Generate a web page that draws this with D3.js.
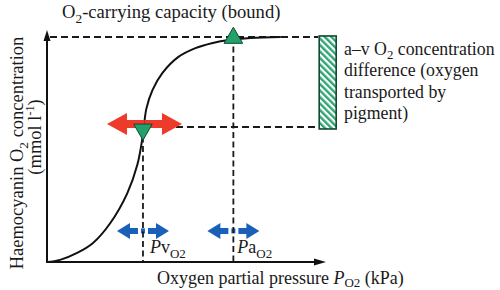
<!DOCTYPE html>
<html><head><meta charset="utf-8">
<script src="https://cdn.jsdelivr.net/npm/d3@7"></script>
<style>
body{margin:0;background:#fff}
svg{display:block}
text{font-family:"Liberation Serif","Times New Roman","DejaVu Serif",serif;fill:#1a1a1a}
</style>
</head><body>
<svg id="c" width="500" height="290"></svg>
<script>
// ---- data (arbitrary units: PO2 0-100, O2 content 0-100) ----
const curvePO2 = [0, 4.7, 10.8, 16.5, 22.7, 28.8, 32.4, 34.4, 35.6, 37.8, 41.4, 47.1, 53.2, 59.4, 65.1, 73.0, 83.8];
const curveO2  = [0, 0.9, 3.9, 8.2, 16.8, 29.7, 42.0, 55.0, 66.0, 74.1, 81.5, 88.4, 92.2, 94.4, 95.7, 96.6, 97.0];
const pvO2 = 34.4;          // venous PO2
const paO2 = 66.8;          // arterial PO2
const capacity = 97.0;      // O2-carrying capacity (bound)
const venousContent = 58.2; // venous O2 content
const capacityLineEnd = 97.2;
const axisMax = [100, 100];
const arrowLevelRed = 59.5;
const arrowLevelBlue = 13.4;
const titleParts = ["O", "2", "-carrying capacity (bound)"];
const noteLines = [["a–v O", "2", " concentration"], ["difference (oxygen"], ["transported by"], ["pigment)"]];
const yLabel1 = ["Haemocyanin O", "2", " concentration"];
const yLabel2 = ["(mmol l", "-1", ")"];
const xLabel = ["Oxygen partial pressure ", "P", "O2", " (kPa)"];

const svg = d3.select("#c");
const x = d3.scaleLinear().domain([0, axisMax[0]]).range([47, 326]);
const y = d3.scaleLinear().domain([0, axisMax[1]]).range([262, 30]);

const green = "#23a06c", greenDark = "#0f4a2e", red = "#ee3a2a", blue = "#1b60b8";
const FONT = "Liberation Serif";

// hatch pattern
const defs = svg.append("defs");
const pat = defs.append("pattern").attr("id", "hatch").attr("patternUnits", "userSpaceOnUse")
  .attr("width", 4.6).attr("height", 4.6).attr("patternTransform", "rotate(-45)");
pat.append("rect").attr("width", 4.6).attr("height", 4.6).attr("fill", "#fff");
pat.append("rect").attr("width", 2.4).attr("height", 4.6).attr("fill", "#2fa574");

const dash = {stroke: "#1a1a1a", "stroke-width": 2, "stroke-dasharray": "7,4", fill: "none"};
function line(x1, y1, x2, y2, style) {
  const l = svg.append("line").attr("x1", x1).attr("y1", y1).attr("x2", x2).attr("y2", y2);
  for (const k in style) l.attr(k, style[k]);
  return l;
}
line(x(0) + 3, y(capacity), x(capacityLineEnd), y(capacity), dash);
line(x(pvO2), y(venousContent), x(capacityLineEnd), y(venousContent), dash);
const vdash = {stroke: "#1a1a1a", "stroke-width": 1.8, "stroke-dasharray": "6,3.5", fill: "none"};

// curve
svg.append("path")
  .datum(curvePO2.map((p, i) => [p, curveO2[i]]))
  .attr("d", d3.line().x(d => x(d[0])).y(d => y(d[1])).curve(d3.curveCatmullRom.alpha(0.5)))
  .attr("fill", "none").attr("stroke", "#111").attr("stroke-width", 2);

function dblArrow(cx, cy, half, headL, headH, shaftH, color, gap) {
  const g = svg.append("g").attr("fill", color);
  const L = cx - half, R = cx + half;
  g.append("path").attr("d",
    `M${L},${cy} L${L + headL},${cy - headH} L${L + headL},${cy - shaftH} L${cx - gap},${cy - shaftH} L${cx - gap},${cy + shaftH} L${L + headL},${cy + shaftH} L${L + headL},${cy + headH} Z`);
  g.append("path").attr("d",
    `M${R},${cy} L${R - headL},${cy - headH} L${R - headL},${cy - shaftH} L${cx + gap},${cy - shaftH} L${cx + gap},${cy + shaftH} L${R - headL},${cy + shaftH} L${R - headL},${cy + headH} Z`);
  if (gap > 0) g.append("rect").attr("x", cx - 2).attr("y", cy - shaftH + 0.5).attr("width", 4).attr("height", 2 * shaftH - 1);
}
dblArrow(x(pvO2), y(arrowLevelBlue), 26, 13, 8, 3, blue, 5);
dblArrow(x(paO2), y(arrowLevelBlue), 26, 13, 8, 3, blue, 5);

line(x(pvO2), y(venousContent), x(pvO2), y(0), vdash);
line(x(paO2), y(capacity), x(paO2), y(0), vdash);

dblArrow(x(pvO2) + 1.5, y(arrowLevelRed), 37.5, 20, 11, 4, red, 0);

const tri = d3.symbol().type(d3.symbolTriangle).size(150);
svg.append("path").attr("d", tri())
  .attr("transform", `translate(${x(pvO2)},${y(venousContent) + 2.5}) rotate(180)`)
  .attr("fill", green).attr("stroke", greenDark).attr("stroke-width", 1);
svg.append("path").attr("d", tri())
  .attr("transform", `translate(${x(paO2)},${y(capacity) + 1})`)
  .attr("fill", green).attr("stroke", greenDark).attr("stroke-width", 1);

svg.append("rect")
  .attr("x", x(capacityLineEnd) + 1).attr("y", y(capacity) - 1)
  .attr("width", 17).attr("height", y(venousContent) - y(capacity) + 3)
  .attr("fill", "url(#hatch)").attr("stroke", greenDark).attr("stroke-width", 1.6);

// axes
const ax = {stroke: "#111", "stroke-width": 2};
line(x(0), y(0), x(0), y(axisMax[1]) + 8, ax);
line(x(0) - 1, y(0), x(axisMax[0]) - 8, y(0), ax);
svg.append("path").attr("d", `M${x(0)},${y(axisMax[1])} L${x(0) - 3.5},${y(axisMax[1]) + 11} L${x(0) + 3.5},${y(axisMax[1]) + 11} Z`).attr("fill", "#111");
svg.append("path").attr("d", `M${x(axisMax[0])},${y(0)} L${x(axisMax[0]) - 12},${y(0) - 3.5} L${x(axisMax[0]) - 12},${y(0) + 3.5} Z`).attr("fill", "#111");

function txt(attrs, fs) {
  const t = svg.append("text").attr("font-family", FONT).attr("font-size", fs);
  for (const k in attrs) t.attr(k, attrs[k]);
  return t;
}
function rich(t, parts, fs, subIdx, sh) {
  const d = sh || fs * 0.28;
  parts.forEach((p, i) => {
    const ts = t.append("tspan").text(p);
    if (subIdx.includes(i)) ts.attr("font-size", fs * 0.72).attr("dy", d);
    else if (i > 0 && subIdx.includes(i - 1)) ts.attr("dy", -d);
  });
}
const FS = 18;
rich(txt({x: 62, y: 18}, 18.6), titleParts, 18.6, [1]);

noteLines.forEach((ln, i) => {
  rich(txt({x: 344, y: 55 + i * 21.4}, 17.8), ln, 17.8, ln.length > 1 ? [1] : [], 3.5);
});

rich(txt({transform: "translate(23,153) rotate(-90)", "text-anchor": "middle"}, 18.5), yLabel1, 18.5, [1]);
const yl2 = txt({transform: "translate(41,137) rotate(-90)", "text-anchor": "middle"}, 18.5);
yl2.append("tspan").text(yLabel2[0]);
yl2.append("tspan").text(yLabel2[1]).attr("font-size", 12).attr("dy", -7);
yl2.append("tspan").text(yLabel2[2]).attr("dy", 7);

const xl = txt({x: 157, y: 284}, FS);
xl.append("tspan").text(xLabel[0]);
xl.append("tspan").text(xLabel[1]).attr("font-style", "italic");
xl.append("tspan").text(xLabel[2]).attr("font-size", 13).attr("dy", 3);
xl.append("tspan").text(xLabel[3]).attr("dy", -3);

function pLabel(px, sub) {
  const t = txt({x: px, y: 253}, FS);
  t.append("tspan").text("P").attr("font-style", "italic");
  t.append("tspan").text(sub);
  t.append("tspan").text("O2").attr("font-size", 13).attr("dy", 5);
}
pLabel(x(pvO2) + 7, "v");
pLabel(x(paO2) + 4, "a");
</script>
</body></html>
